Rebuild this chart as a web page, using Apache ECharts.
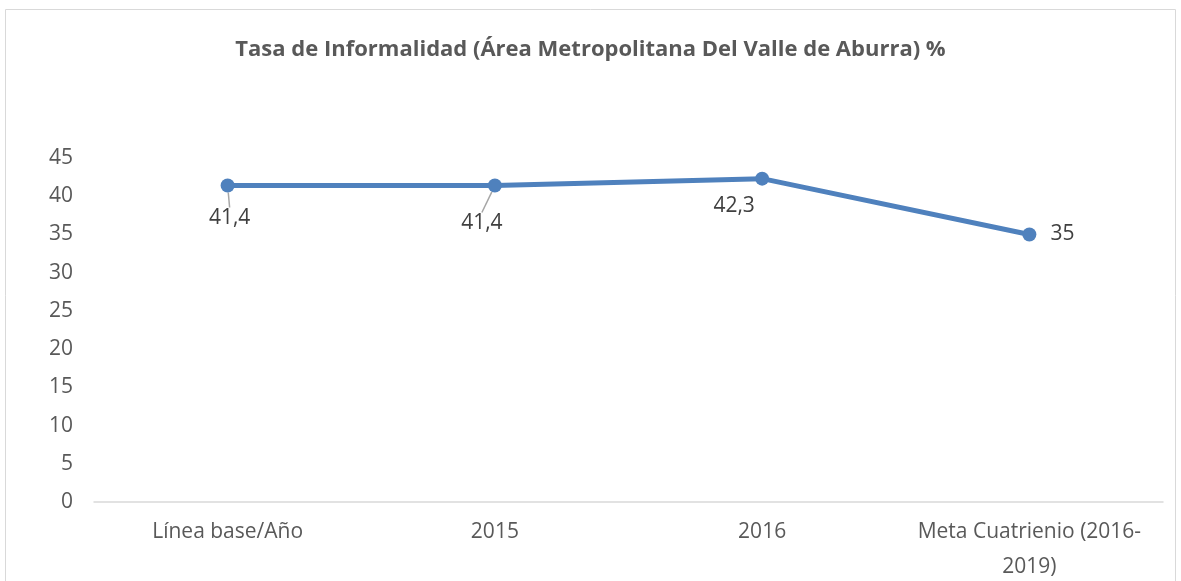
<!DOCTYPE html>
<html>
<head>
<meta charset="utf-8">
<script src="https://cdn.jsdelivr.net/npm/echarts@6/dist/echarts.min.js"></script>
<style>
  html, body { margin: 0; padding: 0; background: #fff; }
  #chart { width: 1181px; height: 581px; }
</style>
</head>
<body>
<div id="chart"></div>
<script>
// datos del gráfico
var categorias = ["Línea base/Año", "2015", "2016", "Meta Cuatrienio (2016-\n2019)"];
var valores = [41.4, 41.4, 42.3, 35];
var titulo = "Tasa de Informalidad (Área Metropolitana Del Valle de Aburra) %";

var myChart = echarts.init(document.getElementById("chart"));

// posiciones de las etiquetas de datos
var etiquetas = [
  { position: "bottom", distance: 15, dx: 2, linea: true },
  { position: "bottom", distance: 20, dx: -13, linea: true },
  { position: "bottom", distance: 10, dx: -28, linea: false },
  { position: "right", distance: 14, dx: 0, linea: false },
];

myChart.setOption({
  animation: false,
  title: {
    text: titulo,
    left: "center",
    top: 34,
    textStyle: {
      fontFamily: "Open Sans",
      fontSize: 22,
      fontWeight: "bold",
      color: "#595959",
    },
  },
  graphic: [
    {
      type: "rect",
      shape: { x: 5.5, y: 9.5, width: 1170, height: 600 },
      style: { fill: "none", stroke: "#d9d9d9", lineWidth: 1 },
      silent: true,
    },
  ],
  grid: {
    left: 94,
    right: 18,
    top: 158,
    bottom: 79,
    containLabel: false,
    outerBoundsMode: "none",
  },
  xAxis: {
    type: "category",
    data: categorias,
    boundaryGap: true,
    axisLine: { lineStyle: { color: "#d9d9d9", width: 1.5 } },
    axisTick: { show: false },
    axisLabel: {
      interval: 0,
      color: "#595959",
      fontFamily: "Open Sans",
      fontSize: 21,
      margin: 13,
      lineHeight: 35,
      align: "center",
      verticalAlign: "top",
    },
  },
  yAxis: {
    type: "value",
    min: 0,
    max: 45,
    interval: 5,
    axisLine: { show: false },
    axisTick: { show: false },
    splitLine: { show: false },
    axisLabel: {
      color: "#595959",
      fontFamily: "Open Sans",
      fontSize: 21,
      margin: 21,
    },
  },
  series: [
    {
      type: "line",
      data: valores.map(function (v, i) {
        var e = etiquetas[i];
        return {
          value: v,
          label: { position: e.position, distance: e.distance },
          labelLine: { show: e.linea },
        };
      }),
      symbol: "circle",
      symbolSize: 14,
      lineStyle: { color: "#4f81bd", width: 5 },
      itemStyle: { color: "#4f81bd" },
      label: {
        show: true,
        color: "#404040",
        fontFamily: "Open Sans",
        fontSize: 21,
        formatter: function (p) {
          return String(p.value).replace(".", ",");
        },
      },
      labelLine: {
        lineStyle: { color: "#a6a6a6", width: 1.5 },
      },
      labelLayout: function (params) {
        return { dx: etiquetas[params.dataIndex].dx };
      },
    },
  ],
});
</script>
</body>
</html>
